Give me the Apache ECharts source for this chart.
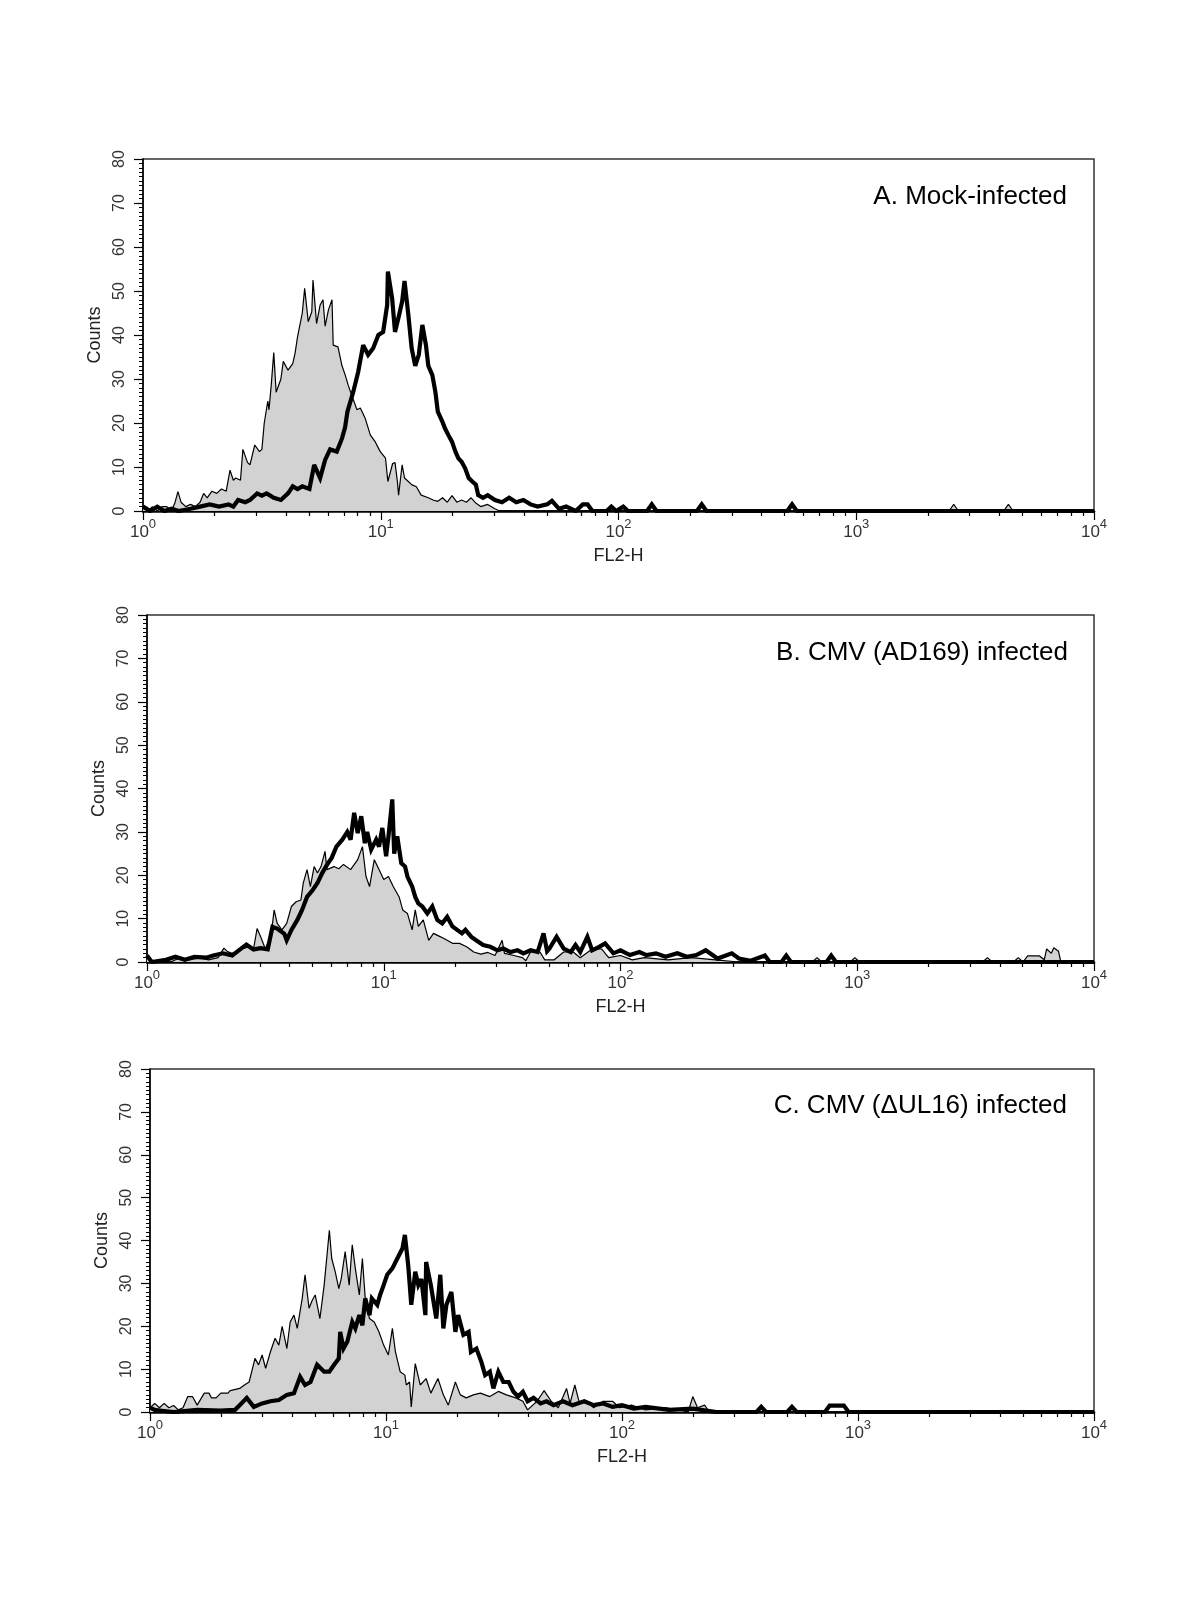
<!DOCTYPE html>
<html>
<head>
<meta charset="utf-8">
<script src="https://cdn.jsdelivr.net/npm/echarts@6/dist/echarts.min.js"></script>
<style>
html,body{margin:0;padding:0;background:#fff;}
#chart{width:1200px;height:1600px;}
</style>
</head>
<body>
<div id="chart"></div>
<script>
// x values are log10(FL2-H); y values are event counts
const panelTitles = ['A. Mock-infected', 'B. CMV (AD169) infected', 'C. CMV (\u0394UL16) infected'];
const xTickLabels = ['0', '1', '2', '3', '4']; // exponents of 10
const yTickValues = [0, 10, 20, 30, 40, 50, 60, 70, 80];
const minorMultipliers = [2, 3, 4, 5, 6, 7, 8, 9];

const mockControl = [[0,1],[0.02,0],[0.04,1],[0.06,0],[0.08,1],[0.10,1],[0.12,0],[0.135,2],[0.147,4.4],[0.16,2],[0.18,1],[0.20,1.5],[0.22,1],[0.24,2],[0.255,4],[0.27,3],[0.29,4.5],[0.31,4],[0.33,5],[0.35,4.5],[0.366,9.3],[0.38,7],[0.39,7.5],[0.41,7],[0.42,14],[0.44,11],[0.45,10.5],[0.47,15],[0.49,13.5],[0.50,14],[0.51,20],[0.525,25],[0.53,23],[0.54,29],[0.55,36],[0.56,27],[0.58,30],[0.59,34],[0.61,32],[0.63,33.5],[0.64,36],[0.65,39.6],[0.67,45],[0.68,50.6],[0.695,43],[0.71,45.3],[0.715,52.5],[0.73,42.6],[0.745,46.8],[0.757,48],[0.766,42],[0.78,45.7],[0.795,48],[0.80,37.7],[0.82,37.3],[0.837,33],[0.85,31],[0.863,28.6],[0.88,26],[0.90,23],[0.914,23.4],[0.935,21],[0.956,17.3],[0.977,15.7],[0.998,13.5],[1.02,12],[1.03,6.7],[1.05,10.8],[1.06,11],[1.07,6.7],[1.075,3.6],[1.09,10.5],[1.10,7.5],[1.116,6.7],[1.13,6],[1.15,5.5],[1.17,3.6],[1.20,3],[1.22,2.5],[1.24,2.2],[1.26,3],[1.28,2],[1.30,3.5],[1.32,2],[1.34,2.5],[1.36,2],[1.38,3],[1.40,1.8],[1.42,1],[1.45,1.5],[1.48,0.5],[1.50,0],[3.39,0],[3.41,1.5],[3.43,0],[3.62,0],[3.64,1.5],[3.66,0],[4,0]];

const mockStained = [[0,1],[0.03,0],[0.06,1],[0.09,0],[0.12,0.5],[0.15,0],[0.20,0.5],[0.24,1],[0.28,1.5],[0.32,1],[0.36,1.5],[0.38,1],[0.40,2.5],[0.43,2],[0.45,2.5],[0.48,4],[0.50,3.5],[0.52,4],[0.55,3],[0.58,2.5],[0.61,4],[0.63,5.6],[0.65,5],[0.67,5.6],[0.70,5],[0.72,10.5],[0.745,7.5],[0.766,11.6],[0.787,14],[0.815,13.5],[0.837,16.5],[0.85,19],[0.86,22.6],[0.884,27],[0.905,31.6],[0.926,37.7],[0.947,35.5],[0.968,37],[0.99,40],[1.01,40.7],[1.027,46.8],[1.03,54.4],[1.048,48.3],[1.06,40.7],[1.074,43.8],[1.09,47.6],[1.10,52.3],[1.116,44.6],[1.13,37],[1.145,33],[1.16,35.5],[1.175,42.3],[1.19,37.7],[1.20,33],[1.217,30.9],[1.23,27],[1.24,22.6],[1.26,20.2],[1.27,18.8],[1.284,17.3],[1.30,15.7],[1.314,13.5],[1.326,12],[1.34,11.2],[1.355,9.7],[1.37,7.5],[1.385,6.7],[1.40,6],[1.41,3.6],[1.43,3],[1.45,3.6],[1.48,2.5],[1.51,2],[1.54,3],[1.57,2],[1.60,2.5],[1.63,1.5],[1.66,1],[1.70,1.5],[1.72,2.3],[1.75,0.5],[1.78,1],[1.82,0],[1.85,1.5],[1.87,1.5],[1.89,0],[1.95,0],[1.97,1],[1.99,0],[2.02,1],[2.04,0],[2.12,0],[2.14,1.5],[2.16,0],[2.33,0],[2.35,1.5],[2.37,0],[2.71,0],[2.73,1.5],[2.75,0],[4,0]];

const ad169Control = [[0,1],[0.02,0],[0.05,0.5],[0.10,0],[0.14,1],[0.18,0.5],[0.22,1],[0.26,0.5],[0.30,1],[0.325,3.2],[0.34,2.4],[0.36,2],[0.38,2.4],[0.40,3],[0.43,3.5],[0.45,3],[0.465,7.7],[0.48,5.8],[0.50,3],[0.525,6.5],[0.537,12],[0.55,8.9],[0.57,7.4],[0.59,8.9],[0.61,12.8],[0.63,13.9],[0.65,14.3],[0.66,18.2],[0.676,21.3],[0.69,17.4],[0.706,22],[0.72,20.5],[0.735,22],[0.752,25.5],[0.76,21.3],[0.79,22],[0.81,21.5],[0.83,22.5],[0.86,21.3],[0.89,23.6],[0.91,26.6],[0.925,19.7],[0.94,17.4],[0.96,23.6],[0.98,21.3],[1.00,19],[1.02,19.7],[1.04,17.4],[1.065,15],[1.08,12],[1.10,11.2],[1.12,7.4],[1.133,12],[1.146,8.2],[1.167,9.7],[1.19,5],[1.21,6.6],[1.24,5.8],[1.268,5],[1.29,4.3],[1.32,4.3],[1.35,3.5],[1.38,2.3],[1.41,1.8],[1.44,2.2],[1.47,1.5],[1.50,5],[1.51,2],[1.55,1.5],[1.586,1],[1.60,0.3],[1.62,2.3],[1.66,2.3],[1.68,0.5],[1.72,0.5],[1.76,2.3],[1.80,2.3],[1.83,1],[1.88,3],[1.92,3],[1.95,1],[2.00,1.5],[2.05,0.5],[2.10,1],[2.20,0.5],[2.30,1],[2.40,0.5],[2.50,0],[2.81,0],[2.83,1],[2.85,0],[2.97,0],[2.99,1],[3.01,0],[3.53,0],[3.55,1],[3.57,0],[3.66,0],[3.68,1],[3.70,0],[3.72,1.4],[3.77,1.4],[3.79,0.5],[3.80,3],[3.82,2],[3.83,3.3],[3.85,2.5],[3.86,0],[4,0]];

const ad169Stained = [[0,1.5],[0.02,0],[0.08,0.5],[0.12,1.2],[0.16,0.5],[0.20,1.2],[0.25,1],[0.28,1.5],[0.32,2],[0.36,1.5],[0.40,3.2],[0.42,4],[0.45,2.9],[0.48,3.2],[0.51,2.9],[0.53,8.1],[0.55,7.7],[0.58,6.5],[0.59,5],[0.61,7.4],[0.635,9.7],[0.655,12],[0.676,15],[0.70,16.6],[0.72,18.2],[0.74,20.5],[0.76,22.4],[0.78,24],[0.80,26.6],[0.825,28.2],[0.846,30],[0.86,28.2],[0.875,34.4],[0.89,29.7],[0.905,33.6],[0.92,27.4],[0.93,30],[0.947,25.9],[0.968,28.2],[0.98,26.6],[0.994,30.9],[1.01,24.4],[1.02,29],[1.036,37.5],[1.044,25],[1.057,29],[1.074,22.8],[1.09,22],[1.10,19.7],[1.12,17.4],[1.133,15],[1.146,13.5],[1.163,12.8],[1.184,11.2],[1.205,12.8],[1.226,9.7],[1.247,8.9],[1.268,10.4],[1.29,8.2],[1.31,7.4],[1.33,6.6],[1.345,7.4],[1.37,5.8],[1.39,5],[1.42,3.9],[1.45,3.5],[1.48,2.7],[1.505,3.1],[1.535,2.3],[1.565,2.7],[1.59,2],[1.62,2.7],[1.65,2.3],[1.675,6.6],[1.69,2.5],[1.70,3.1],[1.73,5.8],[1.76,3.1],[1.79,2.3],[1.81,3.9],[1.83,2.3],[1.86,5.8],[1.88,2.7],[1.91,3.5],[1.935,4.3],[1.97,2],[2.00,2.7],[2.04,1.6],[2.08,2.3],[2.11,1.6],[2.15,2],[2.19,1.2],[2.24,2],[2.28,1.2],[2.32,1.6],[2.36,2.7],[2.41,0.8],[2.47,2],[2.50,0.8],[2.55,0.3],[2.61,1.5],[2.63,0],[2.68,0],[2.70,1.5],[2.72,0],[2.87,0],[2.89,1.5],[2.91,0],[4,0]];

const ul16Control = [[0,1],[0.02,2],[0.04,1],[0.06,2],[0.08,1],[0.10,1.5],[0.12,0.5],[0.14,1],[0.16,3.6],[0.18,3.6],[0.20,1.6],[0.23,4.4],[0.25,4.4],[0.26,3.3],[0.28,3.3],[0.30,4.4],[0.33,4.4],[0.34,5],[0.38,5.5],[0.40,6.3],[0.42,7],[0.445,12.5],[0.46,11],[0.475,13.3],[0.49,10.2],[0.51,14],[0.53,17.2],[0.546,15.6],[0.56,20],[0.58,14.8],[0.594,21],[0.61,22.6],[0.624,19.5],[0.645,26.5],[0.657,32],[0.674,24.2],[0.687,26],[0.70,27.3],[0.72,21.8],[0.738,29.6],[0.76,42.4],[0.77,35.8],[0.785,32.7],[0.80,28.8],[0.81,31],[0.827,37.4],[0.844,29.6],[0.857,39],[0.87,33.5],[0.887,27.3],[0.90,35.8],[0.912,26.5],[0.93,21.8],[0.95,21],[0.97,18.7],[0.99,15.6],[1.01,13.3],[1.027,19.5],[1.04,14],[1.06,9.4],[1.08,8.6],[1.086,6.3],[1.10,7],[1.107,1.2],[1.124,11.3],[1.145,6.3],[1.17,7.8],[1.19,4.4],[1.22,7.8],[1.243,4],[1.264,1.6],[1.294,7],[1.315,4],[1.34,3.3],[1.37,4],[1.40,4.4],[1.44,3.6],[1.476,4.8],[1.51,4],[1.55,3.3],[1.58,2.5],[1.60,0.5],[1.64,2.5],[1.67,5],[1.70,2.5],[1.73,1],[1.765,5.5],[1.78,2],[1.80,6.3],[1.82,2],[1.85,2.5],[1.88,1],[1.92,2.5],[1.96,2.5],[1.99,1],[2.04,1.6],[2.10,0.5],[2.18,1],[2.24,0.5],[2.28,0],[2.30,3.6],[2.32,1],[2.35,1.6],[2.37,0],[4,0]];

const ul16Stained = [[0,1],[0.02,0.5],[0.05,0.3],[0.10,0],[0.20,0.5],[0.30,0.3],[0.36,0.5],[0.38,1.6],[0.41,3.3],[0.44,1.2],[0.475,2],[0.51,2.5],[0.546,2.8],[0.58,4],[0.61,4.4],[0.636,8.2],[0.657,6.3],[0.68,7],[0.708,11],[0.738,9.4],[0.76,9.4],[0.78,11],[0.80,12.5],[0.806,18.7],[0.82,14.8],[0.836,16.4],[0.857,21],[0.87,19.5],[0.887,22.6],[0.90,20.2],[0.912,26.5],[0.93,22.6],[0.94,26.5],[0.963,25],[0.975,27.3],[0.99,29.6],[1.005,32],[1.027,33.5],[1.048,35.8],[1.07,38.2],[1.08,41.3],[1.094,34.3],[1.107,25],[1.124,32.7],[1.137,29.6],[1.15,31],[1.167,22.6],[1.17,35],[1.19,29.6],[1.213,21.8],[1.23,32],[1.243,19.5],[1.256,25],[1.277,28],[1.294,18.7],[1.306,22.6],[1.328,18],[1.35,18.7],[1.36,14],[1.383,14.8],[1.404,11.7],[1.42,8.6],[1.44,9.4],[1.455,5.5],[1.476,9.4],[1.497,7],[1.52,7],[1.54,4.7],[1.56,3.6],[1.58,4.7],[1.60,2.5],[1.625,3.3],[1.655,2],[1.68,2.5],[1.71,1.6],[1.75,2.5],[1.79,1.6],[1.84,2.5],[1.88,1.6],[1.92,2],[1.96,1.2],[2.00,1.6],[2.05,0.8],[2.10,1.2],[2.20,0.5],[2.30,0.8],[2.40,0],[2.57,0],[2.59,1.2],[2.61,0],[2.70,0],[2.72,1.2],[2.74,0],[2.86,0],[2.88,1.5],[2.94,1.5],[2.96,0],[4,0]];

const controls = [mockControl, ad169Control, ul16Control];
const stained = [mockStained, ad169Stained, ul16Stained];

// layout
const gridBoxes = [
  {left: 143, top: 159, width: 951, height: 352},
  {left: 147, top: 615, width: 947, height: 347},
  {left: 150, top: 1069, width: 944, height: 343}
];
const titleBoxes = [{right: 133, top: 184}, {right: 132, top: 640}, {right: 133, top: 1093}];

const minorTickValues = [];
for (let d = 0; d < 4; d++) minorMultipliers.forEach(k => minorTickValues.push(d + Math.log10(k)));

const FONT = 'Liberation Sans, Arial, sans-serif';

const option = {
  animation: false,
  backgroundColor: '#fff',
  title: panelTitles.map((t, i) => ({
    text: t, right: titleBoxes[i].right, top: titleBoxes[i].top, padding: 0,
    textStyle: {fontSize: 26, fontWeight: 'normal', fontFamily: FONT, color: '#000'}
  })),
  grid: gridBoxes.map(g => Object.assign({show: true, borderColor: '#333', borderWidth: 1.5, backgroundColor: 'transparent', containLabel: false}, g)),
  xAxis: [],
  yAxis: [],
  series: []
};

gridBoxes.forEach((g, i) => {
  option.xAxis.push({
    gridIndex: i, type: 'value', min: 0, max: 4, interval: 1, position: 'bottom',
    name: 'FL2-H', nameLocation: 'middle', nameGap: 36,
    nameTextStyle: {fontSize: 18, fontFamily: FONT, color: '#222'},
    axisLine: {show: true, onZero: false, lineStyle: {color: '#000', width: 2.5}},
    axisTick: {show: true, length: 9, lineStyle: {color: '#000', width: 1.2}},
    splitLine: {show: false},
    axisLabel: {
      margin: 4, color: '#333', fontFamily: FONT,
      formatter: v => '{b|10}{s|' + xTickLabels[Math.round(v)] + '}',
      rich: {
        b: {fontSize: 17, lineHeight: 26, verticalAlign: 'bottom', fontFamily: FONT, color: '#333'},
        s: {fontSize: 13, verticalAlign: 'top', padding: [3, 0, 0, 0], fontFamily: FONT, color: '#333'}
      }
    }
  });
  option.xAxis.push({
    gridIndex: i, type: 'value', min: 0, max: 4, position: 'bottom',
    axisLine: {show: false}, axisLabel: {show: false}, splitLine: {show: false},
    axisTick: {show: true, length: 5, customValues: minorTickValues, lineStyle: {color: '#000', width: 1.2}}
  });
  option.yAxis.push({
    gridIndex: i, type: 'value', min: 0, max: 80, interval: 10,
    name: 'Counts', nameLocation: 'middle', nameGap: 34,
    nameTextStyle: {fontSize: 18, fontFamily: FONT, color: '#222'},
    axisLine: {show: true, lineStyle: {color: '#000', width: 1.5}},
    axisTick: {show: true, length: 9, lineStyle: {color: '#000', width: 1.2}},
    minorTick: {show: true, splitNumber: 10, length: 4, lineStyle: {color: '#000', width: 1}},
    splitLine: {show: false},
    axisLabel: {rotate: 90, margin: 15, fontSize: 16, fontFamily: FONT, color: '#333',
      formatter: v => (yTickValues.indexOf(v) >= 0 ? String(v) : '')}
  });
  option.series.push({
    type: 'line', xAxisIndex: 2 * i, yAxisIndex: i, data: controls[i],
    showSymbol: false, symbol: 'none', z: 2,
    lineStyle: {color: '#000', width: 1.2},
    areaStyle: {color: '#d2d2d2', opacity: 1}
  });
  option.series.push({
    type: 'line', xAxisIndex: 2 * i, yAxisIndex: i, data: stained[i],
    showSymbol: false, symbol: 'none', z: 3,
    lineStyle: {color: '#000', width: 4.2, join: 'miter', miterLimit: 3}
  });
});

const chart = echarts.init(document.getElementById('chart'), null, {renderer: 'canvas'});
chart.setOption(option);
</script>
</body>
</html>
